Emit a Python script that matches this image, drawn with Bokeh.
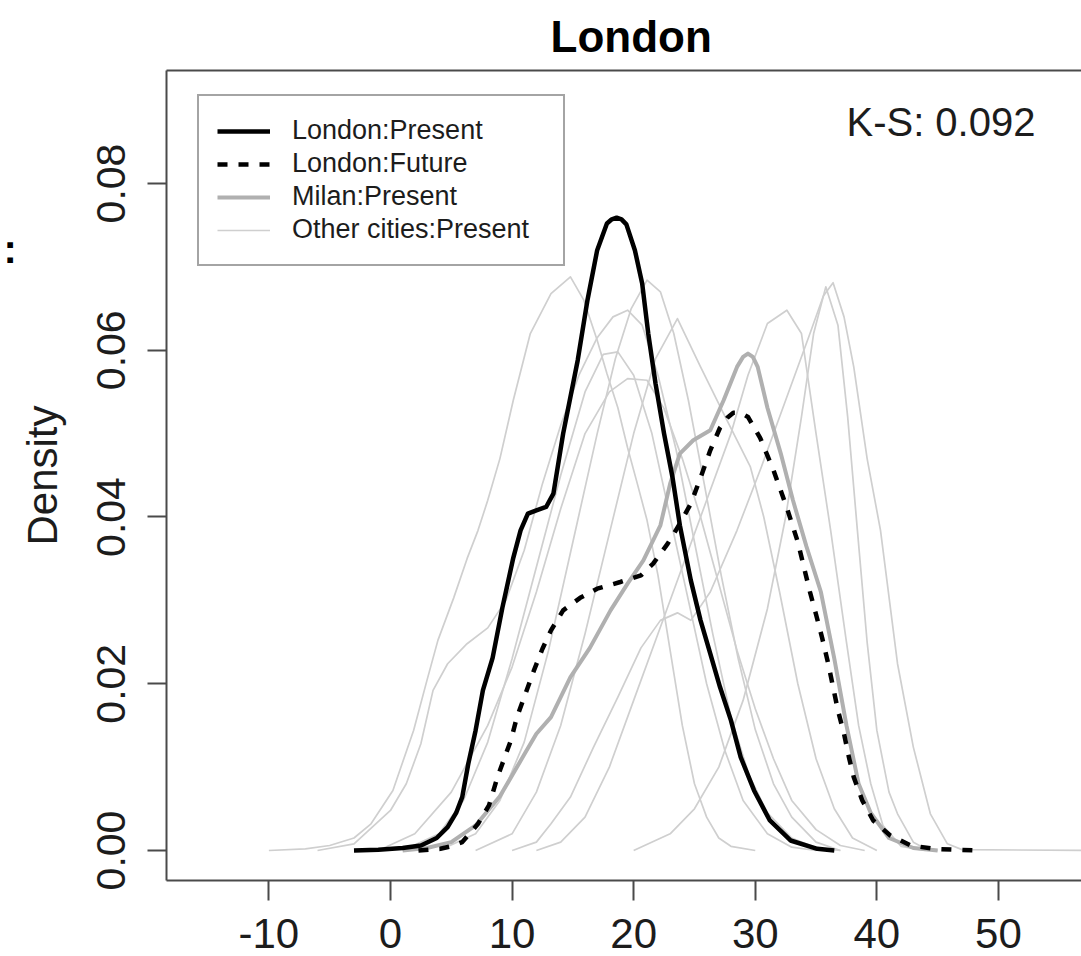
import math
from bokeh.plotting import figure
from bokeh.models import (Range1d, FixedTicker, LinearAxis, Legend, LegendItem, Label,
                          PrintfTickFormatter)
from bokeh.embed import file_html
from bokeh.resources import INLINE

# ---------------- data ----------------
x_ticks = [-10, 0, 10, 20, 30, 40, 50]
y_ticks = [0.0, 0.02, 0.04, 0.06, 0.08]

london_present_x = [-3.0, -1.0, 1.0, 2.5, 3.8, 4.7, 5.4, 5.9, 6.4, 7.0, 7.6, 8.4, 9.2, 10.1, 10.7,
                    11.3, 12.0, 12.8, 13.4, 14.2, 15.4, 16.2, 17.0, 17.8, 18.2, 18.6, 19.0, 19.4,
                    20.1, 20.7, 21.2, 21.8, 22.5, 23.2, 23.8, 24.7, 25.5, 26.3, 27.1, 28.0, 28.8,
                    29.9, 31.2, 32.9, 35.1, 36.5]
london_present_y = [0.0, 0.0001, 0.0003, 0.0006, 0.0015, 0.0028, 0.0045, 0.0064, 0.0104, 0.0144,
                    0.0192, 0.0231, 0.0291, 0.0351, 0.0384, 0.0404, 0.0408, 0.0412, 0.0428, 0.050,
                    0.0588, 0.066, 0.072, 0.0752, 0.0757, 0.0759, 0.0757, 0.0751, 0.072, 0.068,
                    0.062, 0.056, 0.050, 0.0447, 0.0390, 0.0324, 0.0276, 0.0236, 0.0196, 0.0156,
                    0.0112, 0.0072, 0.0036, 0.0012, 0.0002, 0.0]

london_future_x = [2.3, 4.1, 5.0, 5.9, 7.2, 8.1, 8.8, 9.3, 9.9, 10.4, 11.1, 11.8, 12.5, 13.2, 14.2,
                   15.6, 17.0, 18.9, 20.6, 21.6, 22.8, 23.8, 24.7, 25.5, 26.3, 27.1, 27.7, 28.2,
                   28.8, 29.4, 30.4, 31.5, 32.6, 33.5, 34.0, 34.5, 35.0, 35.5, 36.0, 36.4, 36.8,
                   37.3, 37.7, 38.1, 38.8, 39.7, 41.1, 42.8, 44.7, 46.3, 48.1]
london_future_y = [0.0, 0.0002, 0.0005, 0.001, 0.0032, 0.0054, 0.0088, 0.0108, 0.0132, 0.016, 0.0188,
                   0.0216, 0.0242, 0.0264, 0.0288, 0.0303, 0.0314, 0.0322, 0.033, 0.0344, 0.0368,
                   0.0392, 0.0416, 0.0447, 0.048, 0.0507, 0.0519, 0.0525, 0.0525, 0.052, 0.0495,
                   0.0456, 0.0411, 0.0370, 0.0340, 0.0310, 0.0283, 0.0255, 0.0224, 0.0196, 0.0168,
                   0.014, 0.0112, 0.0088, 0.006, 0.0036, 0.0018, 0.0006, 0.0002, 0.0001, 0.0]

milan_x = [1.0, 3.0, 5.0, 7.0, 9.0, 10.0, 11.0, 12.0, 13.2, 14.8, 16.4, 18.1, 19.5, 20.8, 22.2, 23.0,
           23.8, 24.9, 26.3, 27.4, 28.5, 29.0, 29.4, 29.8, 30.2, 31.0, 32.1, 33.1, 34.2, 35.4, 36.5,
           37.5, 38.5, 39.5, 41.0, 43.0, 45.0]
milan_y = [0.0, 0.0003, 0.001, 0.003, 0.0065, 0.009, 0.0115, 0.014, 0.016, 0.0208, 0.0243, 0.0288,
           0.032, 0.0348, 0.0390, 0.0440, 0.0476, 0.0492, 0.0504, 0.054, 0.058, 0.0592, 0.0596,
           0.0592, 0.058, 0.0531, 0.0476, 0.042, 0.0365, 0.031, 0.023, 0.015, 0.008, 0.0045,
           0.0015, 0.0003, 0.0]

city1_x = [-10, -7, -5, -3, -1.6, 0.2, 1.9, 3.0, 3.9, 5.2, 6.3, 7.2, 8.0, 9.0, 10.1, 11.5, 13.2, 14.8,
           15.9, 17.0, 17.8, 18.7, 19.5, 20.3, 21.1, 22.0, 23.0, 24.0, 25.0, 26.0, 27.0, 28.0, 30.0]
city1_y = [0.0, 0.0002, 0.0006, 0.0015, 0.0032, 0.0072, 0.0144, 0.0204, 0.0252, 0.0303, 0.035, 0.0384,
           0.042, 0.047, 0.054, 0.062, 0.0668, 0.0688, 0.066, 0.0612, 0.0572, 0.0531, 0.0483, 0.044,
           0.0396, 0.033, 0.024, 0.015, 0.008, 0.004, 0.0015, 0.0005, 0.0]

city2_x = [-6, -3, 0, 1.3, 2.5, 3.5, 4.7, 6.3, 8.0, 9.5, 11, 12.5, 14, 15.5, 17, 18.3, 19.5, 20.7, 22,
           23.5, 25, 26.5, 28, 29.5, 31, 33, 35, 37]
city2_y = [0.0, 0.0008, 0.0048, 0.008, 0.0128, 0.0192, 0.0224, 0.0248, 0.0267, 0.030, 0.036, 0.044,
           0.051, 0.057, 0.0615, 0.064, 0.0648, 0.063, 0.057, 0.048, 0.037, 0.026, 0.016, 0.009,
           0.0045, 0.0015, 0.0003, 0.0]

city3_x = [4, 7, 9, 11, 13, 15, 17, 18.5, 19.8, 21.1, 22.2, 23.3, 24.5, 25.8, 27.2, 28.6, 30, 31.5, 33,
           35, 37]
city3_y = [0.0, 0.002, 0.006, 0.013, 0.024, 0.037, 0.050, 0.059, 0.065, 0.0684, 0.067, 0.062, 0.054,
           0.044, 0.033, 0.023, 0.0145, 0.008, 0.004, 0.001, 0.0]

city4_x = [7, 10, 12, 14, 16, 18, 20, 21.8, 23.6, 25.5, 27.4, 29.6, 30.7, 32, 33.5, 35, 36.5, 38, 40]
city4_y = [0.0, 0.002, 0.007, 0.015, 0.026, 0.038, 0.050, 0.059, 0.0638, 0.058, 0.0524, 0.046, 0.040,
           0.031, 0.020, 0.011, 0.005, 0.0015, 0.0]

city5_x = [1, 4, 6, 8, 10, 12, 14, 16, 17.5, 18.7, 20, 21.5, 23, 24.5, 26, 27.5, 29, 31, 33, 35]
city5_y = [0.0, 0.002, 0.006, 0.013, 0.023, 0.034, 0.045, 0.055, 0.0595, 0.0598, 0.057, 0.050, 0.040,
           0.030, 0.020, 0.012, 0.006, 0.002, 0.0004, 0.0]

city6_x = [-1, 2, 5, 8, 10, 12, 14, 16, 18, 19.5, 21.1, 22.5, 24, 25.5, 27, 28.5, 30, 31.5, 33, 35, 37, 39]
city6_y = [0.0, 0.002, 0.007, 0.015, 0.022, 0.031, 0.041, 0.050, 0.055, 0.0566, 0.0564, 0.053, 0.047,
           0.040, 0.032, 0.024, 0.017, 0.011, 0.006, 0.0025, 0.0006, 0.0]

city7_x = [10, 12, 13.2, 14.8, 16.7, 18.7, 20.6, 22.2, 23.6, 24.7, 26.3, 28.5, 30.5, 32.5, 34.5, 35.6,
           36.4, 37.3, 38.1, 39.2, 40.3, 41.7, 43.0, 44.4, 45.8, 47, 58]
city7_y = [0.0, 0.001, 0.0032, 0.0064, 0.0124, 0.0184, 0.0243, 0.0276, 0.0285, 0.0276, 0.031, 0.0384,
           0.046, 0.054, 0.062, 0.0665, 0.0681, 0.064, 0.058, 0.047, 0.0384, 0.0224, 0.0124, 0.0044,
           0.0008, 0.0001, 0.0]

city8_x = [20, 23, 25, 27, 29, 31, 32.5, 33.8, 34.8, 35.8, 36.8, 37.6, 38.4, 39.2, 40, 41, 41.7, 43, 44, 45]
city8_y = [0.0, 0.002, 0.005, 0.010, 0.018, 0.029, 0.040, 0.052, 0.062, 0.0676, 0.063, 0.052, 0.0384,
           0.025, 0.0144, 0.007, 0.0044, 0.001, 0.0002, 0.0]

city9_x = [12, 14, 16, 18, 20, 22, 24, 26, 28, 29.4, 31, 32.6, 33.8, 35, 36.2, 37.5, 38.5, 39.5, 40.5, 42, 44]
city9_y = [0.0, 0.001, 0.004, 0.010, 0.018, 0.026, 0.034, 0.042, 0.050, 0.057, 0.0632, 0.0648, 0.062,
           0.050, 0.0384, 0.025, 0.015, 0.008, 0.003, 0.0005, 0.0]

legend_labels = ["London:Present", "London:Future", "Milan:Present", "Other cities:Present"]
title_text = "London"
ks_text = "K-S: 0.092"
ks_x, ks_y = 37.5, 0.0874

# ---------------- styling ----------------
FONT = "Liberation Sans"
FRAME = "#4a4a4a"
TEXT = "#1c1c1c"

p = figure(width=1081, height=956, output_backend="svg", toolbar_location=None,
           x_range=Range1d(-18.42, 56.83), y_range=Range1d(-0.0036, 0.09355),
           min_border_left=166, min_border_right=0, min_border_top=70, min_border_bottom=76,
           background_fill_color="white", border_fill_color="white")
p.outline_line_color = None
p.grid.visible = False

p.title.text = title_text
p.title.align = "left"
p.title.offset = 384
p.title.standoff = 19
p.title.text_font = FONT
p.title.text_font_size = "44px"
p.title.text_font_style = "bold"
p.title.text_color = "black"

# bottom axis
xa = p.xaxis[0]
xa.ticker = FixedTicker(ticks=x_ticks)
xa.formatter = PrintfTickFormatter(format="%d")
xa.axis_line_color = FRAME
xa.axis_line_width = 2
xa.major_tick_line_color = FRAME
xa.major_tick_line_width = 2
xa.major_tick_out = 20
xa.major_tick_in = 0
xa.minor_tick_line_color = None
xa.major_label_text_font = FONT
xa.major_label_text_font_size = "42px"
xa.major_label_text_color = TEXT
xa.major_label_standoff = 18

# left axis
ya = p.yaxis[0]
ya.ticker = FixedTicker(ticks=y_ticks)
ya.formatter = PrintfTickFormatter(format="%.2f")
ya.axis_line_color = FRAME
ya.axis_line_width = 2
ya.major_tick_line_color = FRAME
ya.major_tick_line_width = 2
ya.major_tick_out = 19
ya.major_tick_in = 0
ya.minor_tick_line_color = None
ya.major_label_text_font = FONT
ya.major_label_text_font_size = "41px"
ya.major_label_text_color = TEXT
ya.major_label_orientation = "parallel"
ya.major_label_standoff = 22
ya.axis_label = "Density"
ya.axis_label_text_font = FONT
ya.axis_label_text_font_size = "42px"
ya.axis_label_text_font_style = "normal"
ya.axis_label_text_color = TEXT
ya.axis_label_standoff = 29

# top frame line
top = LinearAxis(ticker=FixedTicker(ticks=[]), major_label_text_font_size="0px",
                 major_tick_out=0, major_tick_in=0, minor_tick_out=0, minor_tick_in=0,
                 major_label_standoff=0, axis_line_color=FRAME, axis_line_width=2)
p.add_layout(top, "above")

# curves
others = p.multi_line(
    xs=[city1_x, city2_x, city3_x, city4_x, city5_x, city6_x, city7_x, city8_x, city9_x],
    ys=[city1_y, city2_y, city3_y, city4_y, city5_y, city6_y, city7_y, city8_y, city9_y],
    line_color="#cfcfcf", line_width=1.7, line_join="round")
milan = p.line(milan_x, milan_y, line_color="#b0b0b0", line_width=4, line_join="round")
lp = p.line(london_present_x, london_present_y, line_color="black", line_width=4.5, line_join="round")
lf = p.line(london_future_x, london_future_y, line_color="black", line_width=4.5,
            line_dash="10 11", line_join="round")

legend = Legend(items=[LegendItem(label=legend_labels[0], renderers=[lp]),
                       LegendItem(label=legend_labels[1], renderers=[lf]),
                       LegendItem(label=legend_labels[2], renderers=[milan]),
                       LegendItem(label=legend_labels[3], renderers=[others])],
                location=(31, 614), margin=0, padding=18, spacing=0,
                glyph_width=53, glyph_height=20, label_height=33, label_width=253,
                label_standoff=22, label_text_font=FONT, label_text_font_size="27px",
                label_text_color=TEXT, border_line_color=FRAME, border_line_width=2,
                background_fill_color="white", background_fill_alpha=1.0)
p.add_layout(legend, "center")

p.add_layout(Label(x=ks_x, y=ks_y, text=ks_text, text_font=FONT, text_font_size="40px",
                   text_color=TEXT, text_baseline="alphabetic", text_align="left"))

# fragment of the surrounding slide at the left edge
colon = Label(x=1, y=632, x_units="screen", y_units="screen", text=":",
              text_font=FONT, text_font_size="40px", text_font_style="bold",
              text_color="black", text_baseline="alphabetic")
p.add_layout(colon, "left")

open("out.html", "w").write(file_html(p, INLINE))
